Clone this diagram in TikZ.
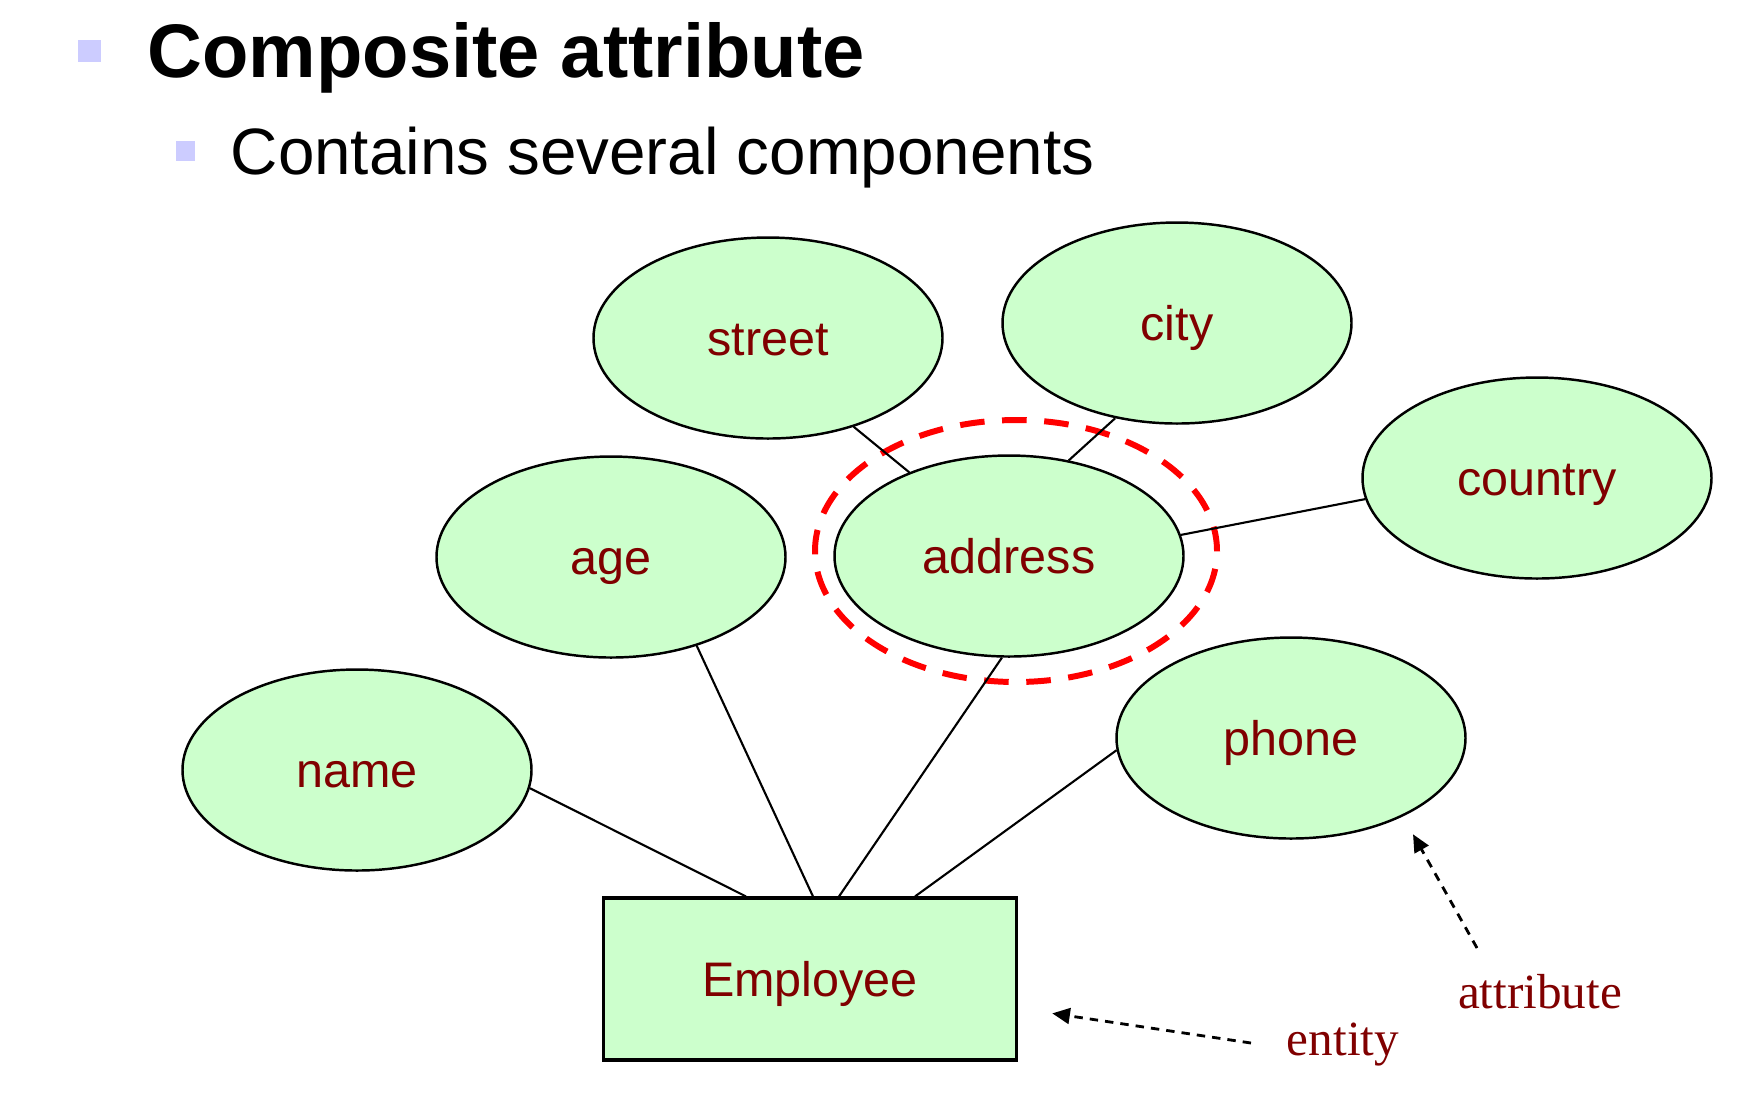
\documentclass[tikz,border=0pt]{standalone}
\usepackage{fontspec}
\setmainfont{Liberation Sans}
\newfontfamily\timesfont{Liberation Serif}
\usepackage{tikz}
\usetikzlibrary{shapes.geometric,arrows.meta,calc}
\definecolor{mint}{HTML}{CCFFCC}
\definecolor{dkred}{HTML}{800000}
\definecolor{lav}{HTML}{CCCCFF}
\definecolor{ringred}{HTML}{FF0000}

\begin{document}
\begin{tikzpicture}[
  attr/.style={ellipse,draw,line width=0.7pt,fill=mint,inner sep=0pt,
               minimum width=3.49cm,minimum height=2.01cm,
               text height=10pt,text depth=0pt,
               font=\fontsize{13.8}{16}\selectfont,text=dkred},
  ent/.style={rectangle,draw,line width=0.9pt,fill=mint,
              minimum width=4.13cm,minimum height=1.62cm,
              text height=10pt,text depth=0pt,
              font=\fontsize{13.8}{16}\selectfont,text=dkred},
  link/.style={line width=0.6pt},
  ptr/.style={-{Triangle[length=5pt,width=4.5pt]},line width=0.8pt,
              dash pattern=on 2.4pt off 2pt},
  note/.style={font=\timesfont\fontsize{14}{16}\selectfont,text=dkred,
               anchor=base,inner sep=0pt},
  blt/.style={fill=lav,inner sep=0pt}]
\useasboundingbox (0,0) rectangle (17.55,-11.07);

% heading
\node[blt,minimum width=0.23cm,minimum height=0.22cm] (b1) at (0.895,-0.51) {};
\node[anchor=base west,inner sep=0pt,font=\fontsize{21.6}{26}\selectfont\bfseries]
  (t1) at (1.47,-0.77) {Composite attribute};
\node[blt,minimum width=0.19cm,minimum height=0.20cm] (b2) at (1.855,-1.51) {};
\node[anchor=base west,inner sep=0pt,font=\fontsize{18.65}{22}\selectfont]
  (t2) at (2.30,-1.74) {Contains several components};

% composite group
\node[ellipse,draw=ringred,line width=1.7pt,dash pattern=on 7pt off 5pt,
      minimum width=4.02cm,minimum height=2.62cm] (grp) at (10.16,-5.51) {};

\node[attr] (street)  at (7.68,-3.38)  {street};
\node[attr] (city)    at (11.77,-3.23) {city};
\node[attr] (country) at (15.37,-4.78) {country};
\node[attr] (age)     at (6.11,-5.57)  {age};
\node[attr] (addr)    at (10.09,-5.56) {address};
\node[attr] (name)    at (3.57,-7.70)  {name};
\node[attr] (phone)   at (12.91,-7.38) {phone};
\node[ent]  (emp)     at (8.10,-9.79)  {Employee};

\draw[link] (street.-46) -- (addr.140);
\draw[link] (city.-123) -- (addr.58);
\draw[link] (country.187) -- (addr.7);
\draw[link] (name.-6) -- ([xshift=-0.64cm]emp.north);
\draw[link] (age.-46) -- ([xshift=0.03cm]emp.north);
\draw[link] (addr.-94) -- ([xshift=0.29cm]emp.north);
\draw[link] (phone.184) -- ([xshift=1.05cm]emp.north);

% legend
\node[note] (attrlbl) at (15.40,-10.08) {attribute};
\node[note] (entlbl)  at (13.43,-10.55) {entity};
\coordinate (attrtail) at (14.77,-9.48);
\coordinate (enttail)  at (12.51,-10.43);
\draw[ptr,shorten >=0.205cm] (attrtail) -- (phone.-35);
\draw[ptr,shorten >=0.346cm] (enttail) -- (emp.-8);
\end{tikzpicture}
\end{document}
